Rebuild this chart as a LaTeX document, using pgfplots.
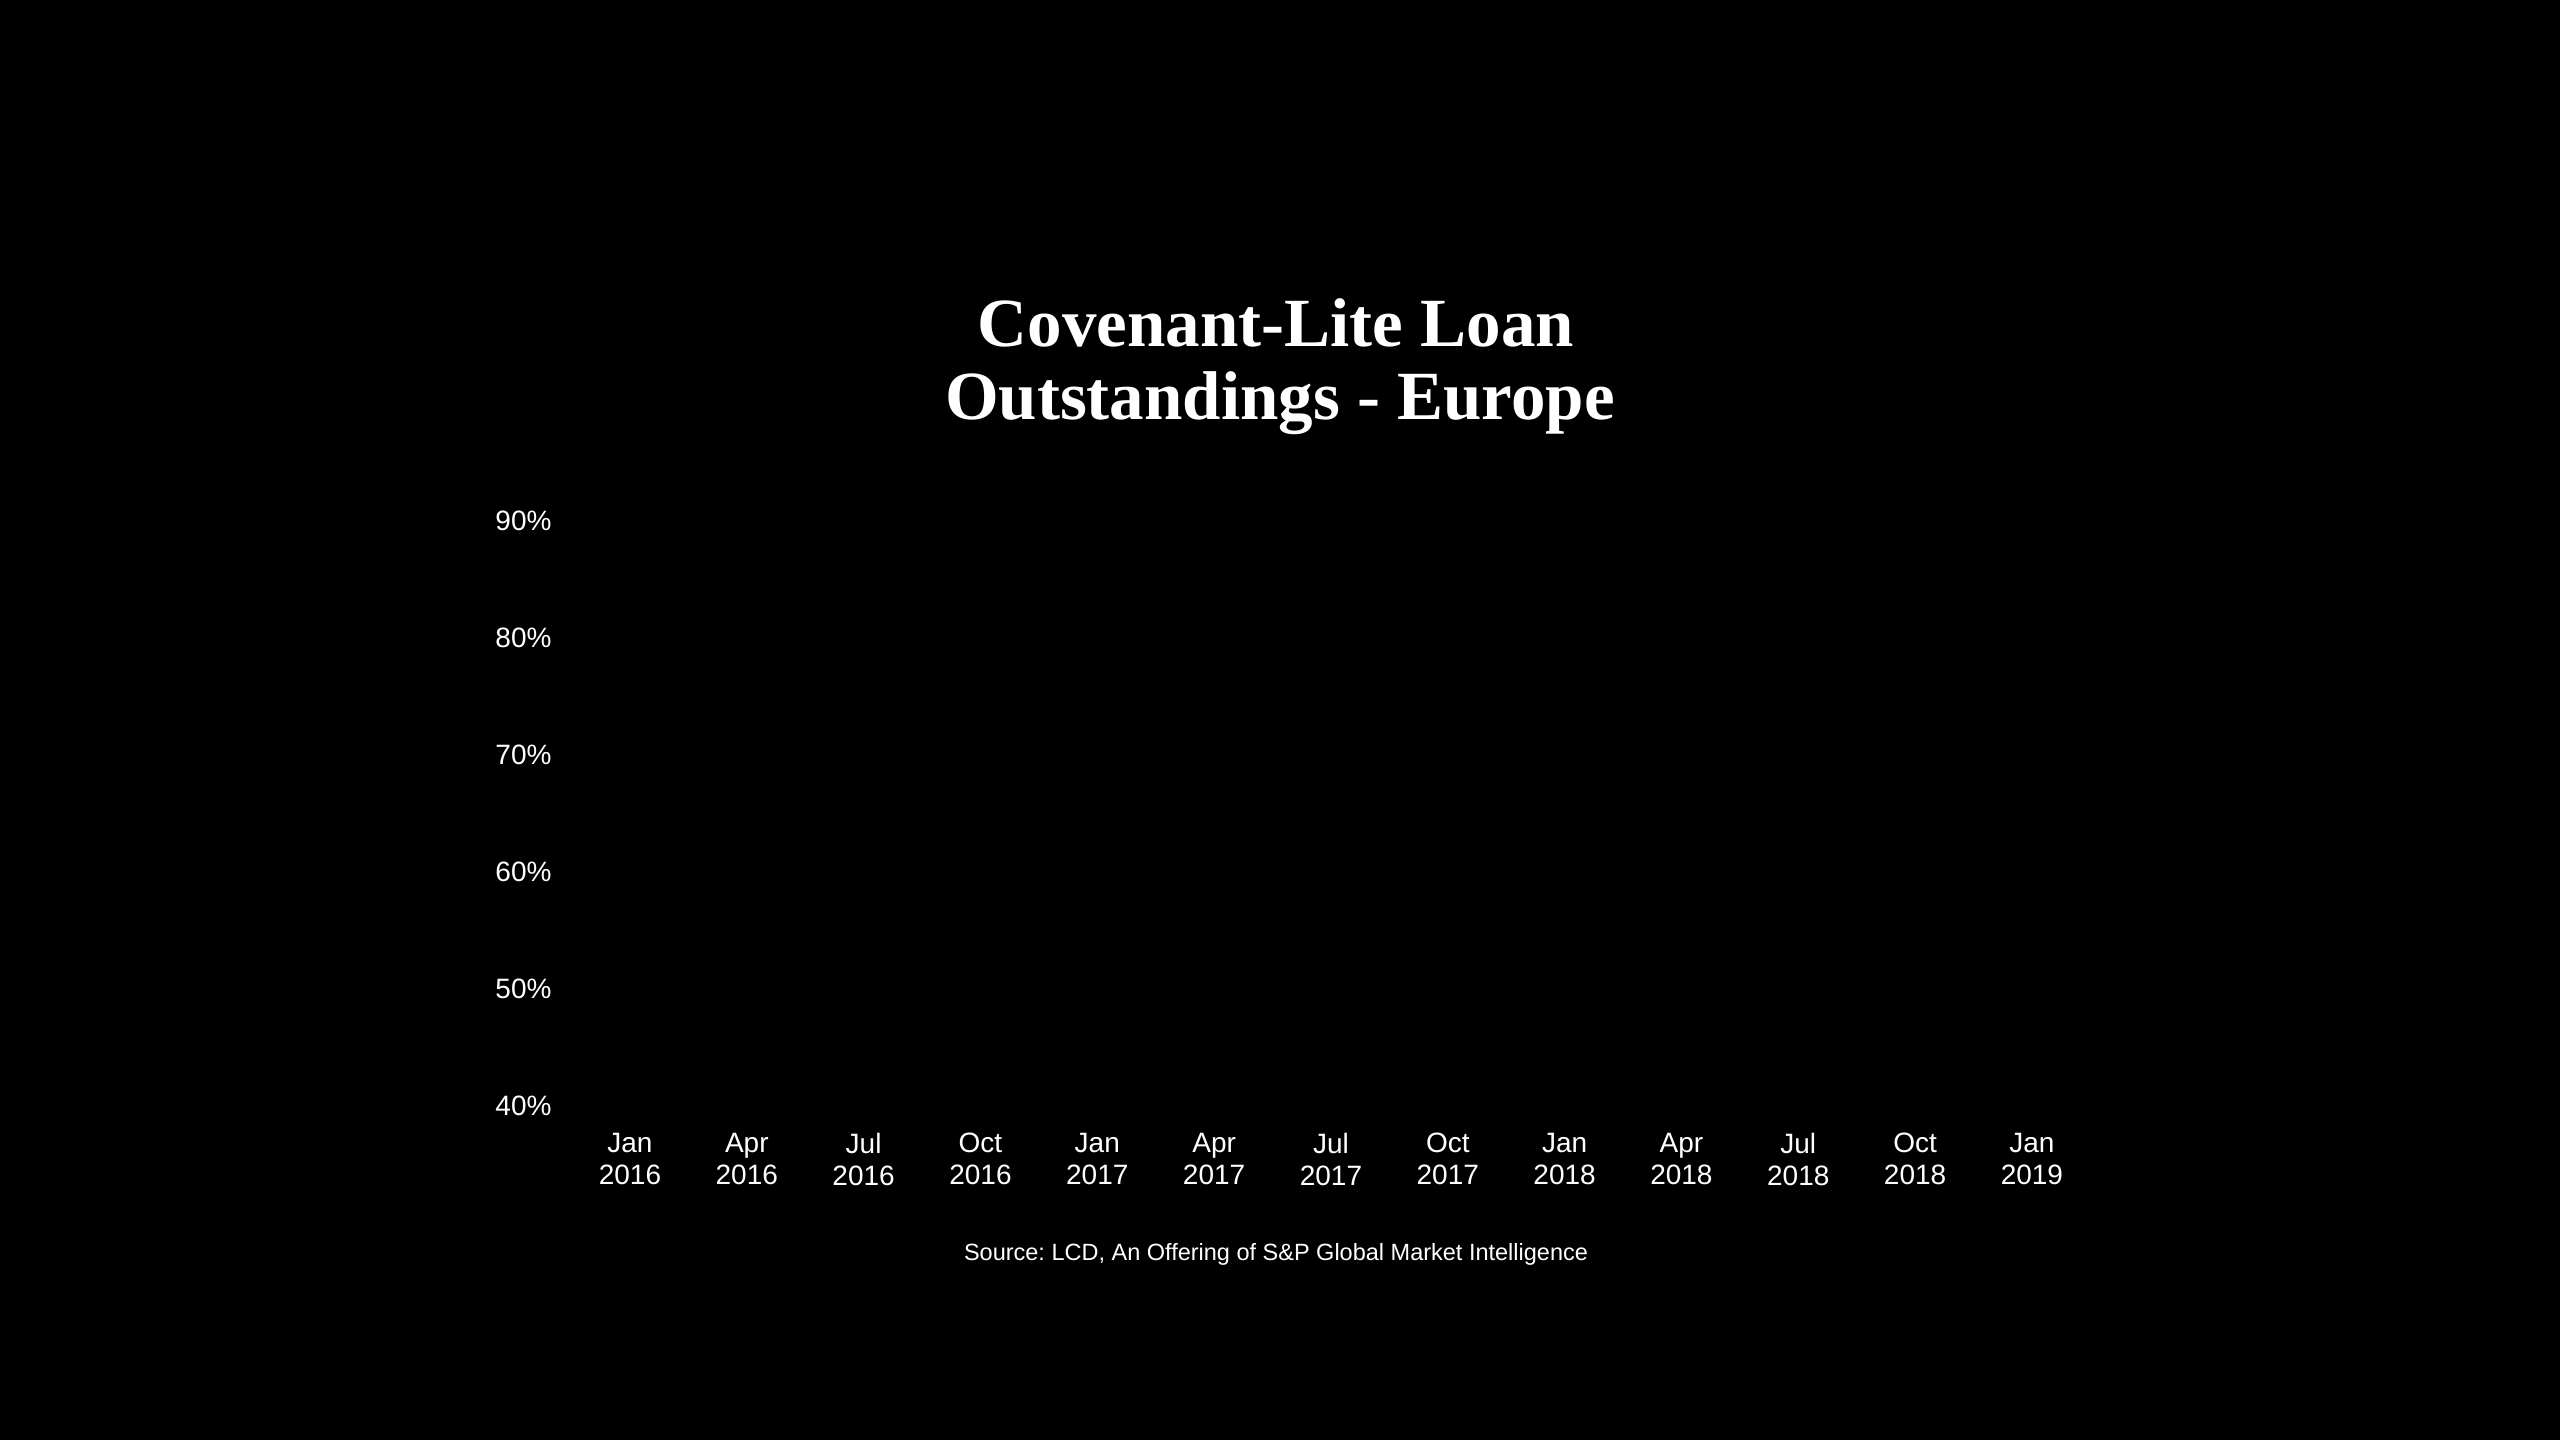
\documentclass[border=0pt]{standalone}
\usepackage{fontspec}
\setmainfont{Liberation Sans}
\newfontfamily\titlefont{Liberation Serif}
\usepackage{pgfplots}
\pgfplotsset{compat=1.18}
\frenchspacing

\begin{document}
\begin{tikzpicture}
% page: 1pt = 1px of the 2560x1440 reference
\fill[black] (0,0) rectangle (2560pt,1440pt);
\useasboundingbox (0,0) rectangle (2560pt,1440pt);

\node[white, anchor=base, inner sep=0pt, font=\titlefont\bfseries\fontsize{69pt}{76pt}\selectfont]
  at (1276pt,1093pt) {Covenant-Lite Loan};
\node[white, anchor=base, inner sep=0pt, font=\titlefont\bfseries\fontsize{69pt}{76pt}\selectfont]
  at (1280pt,1020pt) {Outstandings - Europe};

\begin{axis}[
    at={(551.7pt,334pt)}, anchor=south west,
    scale only axis,
    width=1558.5pt, height=585pt,
    xmin=-0.67, xmax=12.67,
    ymin=40, ymax=90,
    axis line style={draw=none},
    major tick length=0pt,
    xtick={0,1,2,3,4,5,6,7,8,9,10,11,12},
    xticklabels={{Jan\\2016},{Apr\\2016},{Jul\\2016},{Oct\\2016},
                 {Jan\\2017},{Apr\\2017},{Jul\\2017},{Oct\\2017},
                 {Jan\\2018},{Apr\\2018},{Jul\\2018},{Oct\\2018},
                 {Jan\\2019}},
    ytick={40,50,60,70,80,90},
    yticklabels={40\%,50\%,60\%,70\%,80\%,90\%},
    xticklabel style={white, align=center, anchor=north, inner sep=0pt, yshift=-27pt,
                      font=\fontsize{28pt}{32pt}\selectfont},
    yticklabel style={white, anchor=east, inner sep=0pt,
                      font=\fontsize{28pt}{31.5pt}\selectfont},
]
\end{axis}

\node[white, anchor=base, inner sep=0pt, font=\fontsize{23.5pt}{28pt}\selectfont]
  at (1276pt,179pt) {Source: LCD, An Offering of S\&P Global Market Intelligence};
\end{tikzpicture}
\end{document}
